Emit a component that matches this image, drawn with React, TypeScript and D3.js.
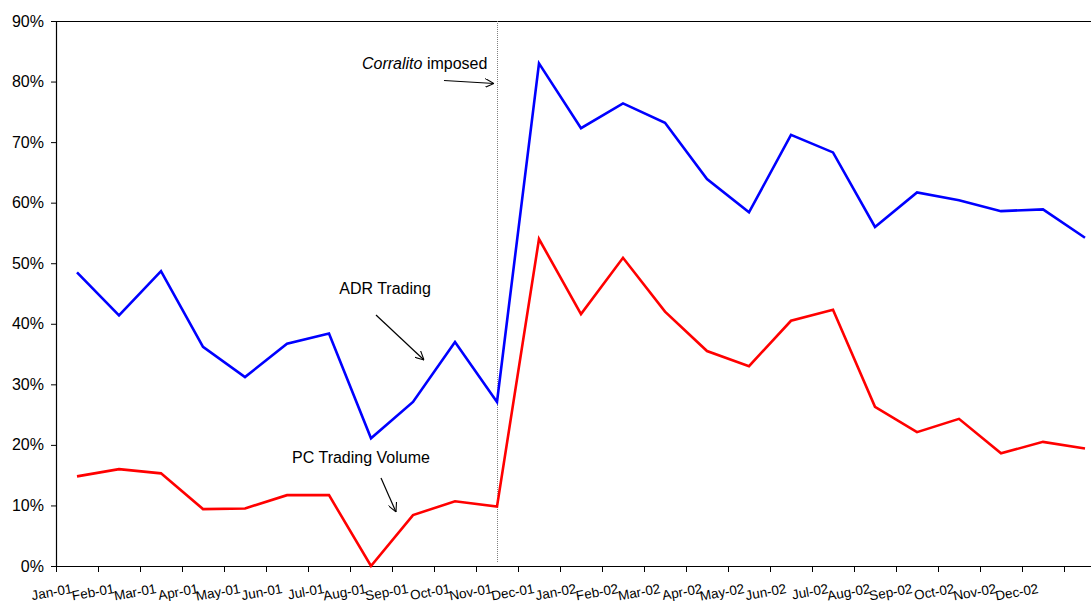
import React from "react";
import * as d3 from "d3";

const months = [
  "Jan-01", "Feb-01", "Mar-01", "Apr-01", "May-01", "Jun-01", "Jul-01", "Aug-01",
  "Sep-01", "Oct-01", "Nov-01", "Dec-01", "Jan-02", "Feb-02", "Mar-02", "Apr-02",
  "May-02", "Jun-02", "Jul-02", "Aug-02", "Sep-02", "Oct-02", "Nov-02", "Dec-02", "",
];

const adrTrading = [
  48.5, 41.4, 48.7, 36.2, 31.2, 36.7, 38.4, 21.1, 27.1, 37.0, 27.1, 83.0, 72.3,
  76.4, 73.2, 63.9, 58.4, 71.2, 68.3, 56.0, 61.7, 60.4, 58.6, 58.9, 54.2,
];

const pcTradingVolume = [
  14.8, 16.0, 15.3, 9.4, 9.5, 11.7, 11.7, 0.0, 8.4, 10.7, 9.8, 54.0, 41.6,
  50.9, 42.0, 35.5, 33.0, 40.5, 42.3, 26.3, 22.1, 24.3, 18.6, 20.5, 19.4,
];

const yTicks = [0, 10, 20, 30, 40, 50, 60, 70, 80, 90];

const corralitoIndex = 10; // at the Nov-01 observation

const W = 1091;
const H = 605;
const left = 56;
const top = 21;
const bottom = 566;
const step = 42;

export default function App() {
  const x = d3
    .scaleBand<number>()
    .domain(d3.range(months.length))
    .range([left, left + step * months.length])
    .paddingInner(0)
    .paddingOuter(0);
  const cx = (i: number) => (x(i) as number) + x.bandwidth() / 2;
  const y = d3.scaleLinear().domain([0, 90]).range([bottom, top]);

  const line = d3
    .line<number>()
    .x((_, i) => cx(i))
    .y((d) => y(d));

  const font = "'Liberation Sans', Arial, sans-serif";
  const vx = cx(corralitoIndex) + 0.5;

  const tickXs = d3.range(months.length + 1).map((k) => left + k * step);

  return (
    <svg
      width={W}
      height={H}
      style={{ position: "absolute", left: 0, top: 0, background: "#fff" }}
      fontFamily={font}
    >
      <defs>
        <marker
          id="arr"
          viewBox="0 0 10 10"
          refX="10"
          refY="5"
          markerWidth="9"
          markerHeight="9"
          orient="auto"
          markerUnits="userSpaceOnUse"
        >
          <path d="M0,0 L10,5 L0,10" fill="none" stroke="#000" strokeWidth="1.2" />
        </marker>
      </defs>

      {/* plot frame top */}
      <line x1={left} x2={W + 20} y1={top + 0.5} y2={top + 0.5} stroke="#000" strokeWidth={1} />

      {/* y axis */}
      <line x1={left + 0.5} x2={left + 0.5} y1={top} y2={bottom} stroke="#000" strokeWidth={1.2} />
      {yTicks.map((t) => (
        <g key={t}>
          <line x1={left - 5} x2={left} y1={y(t) + 0.5} y2={y(t) + 0.5} stroke="#000" />
          <text
            x={44}
            y={y(t)}
            textAnchor="end"
            dominantBaseline="central"
            fontSize={16}
            fill="#000"
          >
            {t}%
          </text>
        </g>
      ))}

      {/* x axis */}
      <line x1={left} x2={W + 20} y1={bottom + 0.5} y2={bottom + 0.5} stroke="#000" strokeWidth={1.2} />
      {tickXs.map((tx, k) => (
        <line key={k} x1={tx + 0.5} x2={tx + 0.5} y1={bottom} y2={bottom + 6} stroke="#000" />
      ))}
      {months.map((m, i) => (
        <text
          key={i}
          transform={`translate(${cx(i) - 4},${593}) rotate(-10)`}
          textAnchor="end"
          fontSize={13.5}
          fill="#000"
        >
          {m}
        </text>
      ))}

      {/* corralito line */}
      <line
        x1={vx}
        x2={vx}
        y1={top}
        y2={bottom - 3}
        stroke="#808080"
        strokeWidth={1}
        strokeDasharray="1,1"
      />

      {/* series */}
      <path d={line(adrTrading) || ""} fill="none" stroke="#0000FF" strokeWidth={2.6} strokeLinejoin="miter" />
      <path d={line(pcTradingVolume) || ""} fill="none" stroke="#FF0000" strokeWidth={2.6} strokeLinejoin="miter" />

      {/* annotations */}
      <text x={362} y={69} fontSize={16} fill="#000">
        <tspan fontStyle="italic">Corralito</tspan>
        <tspan> imposed</tspan>
      </text>
      <line x1={444} y1={80.5} x2={494} y2={83.5} stroke="#000" strokeWidth={1.2} markerEnd="url(#arr)" />

      <text x={385} y={294} fontSize={16} fill="#000" textAnchor="middle">
        ADR Trading
      </text>
      <line x1={376} y1={315} x2={424} y2={360} stroke="#000" strokeWidth={1.2} markerEnd="url(#arr)" />

      <text x={361} y={463} fontSize={16} fill="#000" textAnchor="middle">
        PC Trading Volume
      </text>
      <line x1={381} y1={478} x2={396} y2={512} stroke="#000" strokeWidth={1.2} markerEnd="url(#arr)" />
    </svg>
  );
}
